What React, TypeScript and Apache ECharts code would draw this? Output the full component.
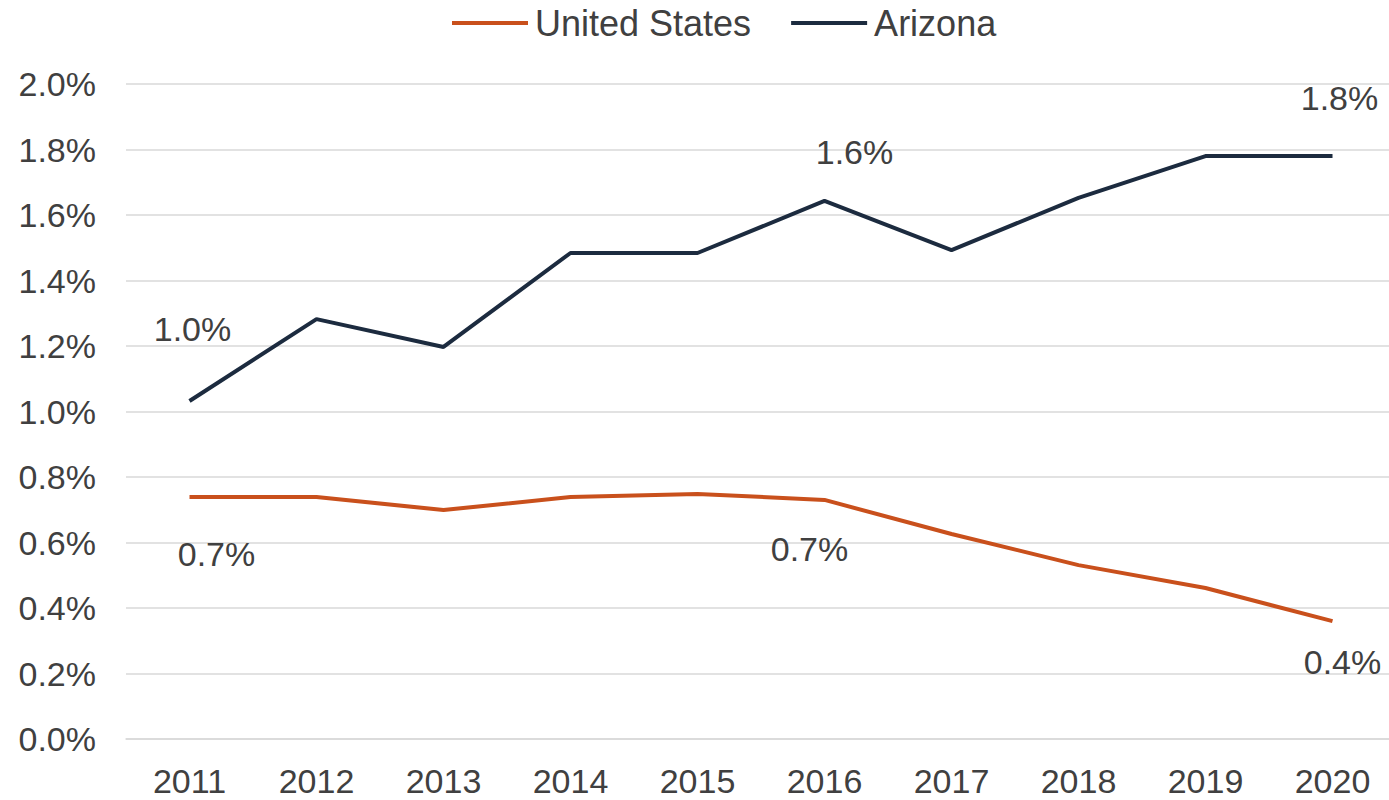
import React, { useEffect, useRef } from "react";
import * as echarts from "echarts";

const years = ["2011", "2012", "2013", "2014", "2015", "2016", "2017", "2018", "2019", "2020"];
const unitedStates = [0.739, 0.739, 0.699, 0.739, 0.748, 0.73, 0.626, 0.531, 0.461, 0.36];
const arizona = [1.032, 1.282, 1.197, 1.484, 1.484, 1.643, 1.493, 1.652, 1.78, 1.78];
const usLabelOffsets: Record<number, [number, number]> = { 0: [27, 57], 5: [-15, 49], 9: [10, 41] };
const azLabelOffsets: Record<number, [number, number]> = { 0: [3, -72], 5: [30, -49], 9: [7, -58] };

const FONT = "'Liberation Sans', Arial, sans-serif";
const TEXT = "#404040";

function buildData(values: number[], offsets: Record<number, [number, number]>) {
  return values.map((v, i) => {
    const off = offsets[i];
    if (!off) return { value: v };
    return {
      value: v,
      label: {
        show: true,
        position: "inside",
        offset: off,
        formatter: (p: any) => p.value.toFixed(1) + "%",
        color: TEXT,
        fontSize: 34,
        fontFamily: FONT,
      },
    };
  });
}

export default function App() {
  const ref = useRef<HTMLDivElement>(null);
  useEffect(() => {
    document.body.style.margin = "0";
    const chart = echarts.init(ref.current!, null, { renderer: "svg" });
    chart.setOption({
      animation: false,
      backgroundColor: "#ffffff",
      legend: {
        top: 0,
        left: 447,
        icon: "rect",
        itemWidth: 76,
        itemHeight: 4,
        itemGap: 40,
        textStyle: { fontSize: 36, color: TEXT, fontFamily: FONT, padding: [0, 0, 0, 2] },
        data: ["United States", "Arizona"],
      },
      grid: {
        left: 126,
        top: 84,
        width: 1270,
        height: 655,
        containLabel: false,
        outerBoundsMode: "none",
      },
      xAxis: {
        type: "category",
        data: years,
        boundaryGap: true,
        axisLine: { show: true, lineStyle: { color: "#d9d9d9", width: 1.5 } },
        axisTick: { show: false },
        axisLabel: { color: TEXT, fontSize: 34, lineHeight: 34, fontFamily: FONT, margin: 25 },
      },
      yAxis: {
        type: "value",
        min: 0,
        max: 2.0,
        interval: 0.2,
        axisLine: { show: false },
        axisTick: { show: false },
        splitLine: { lineStyle: { color: "#d9d9d9", width: 1.5 } },
        axisLabel: {
          color: TEXT,
          fontSize: 34,
          fontFamily: FONT,
          margin: 30,
          formatter: (v: number) => v.toFixed(1) + "%",
        },
      },
      series: [
        {
          name: "United States",
          type: "line",
          data: buildData(unitedStates, usLabelOffsets),
          symbol: "circle",
          symbolSize: 0,
          showSymbol: true,
          color: "#C9501C",
          lineStyle: { color: "#C9501C", width: 4 },
          itemStyle: { color: "#C9501C" },
          label: { show: false },
        },
        {
          name: "Arizona",
          type: "line",
          data: buildData(arizona, azLabelOffsets),
          symbol: "circle",
          symbolSize: 0,
          showSymbol: true,
          color: "#1C2B3F",
          lineStyle: { color: "#1C2B3F", width: 4 },
          itemStyle: { color: "#1C2B3F" },
          label: { show: false },
        },
      ],
    });
    return () => chart.dispose();
  }, []);
  return <div ref={ref} style={{ width: 1389, height: 800 }} />;
}
